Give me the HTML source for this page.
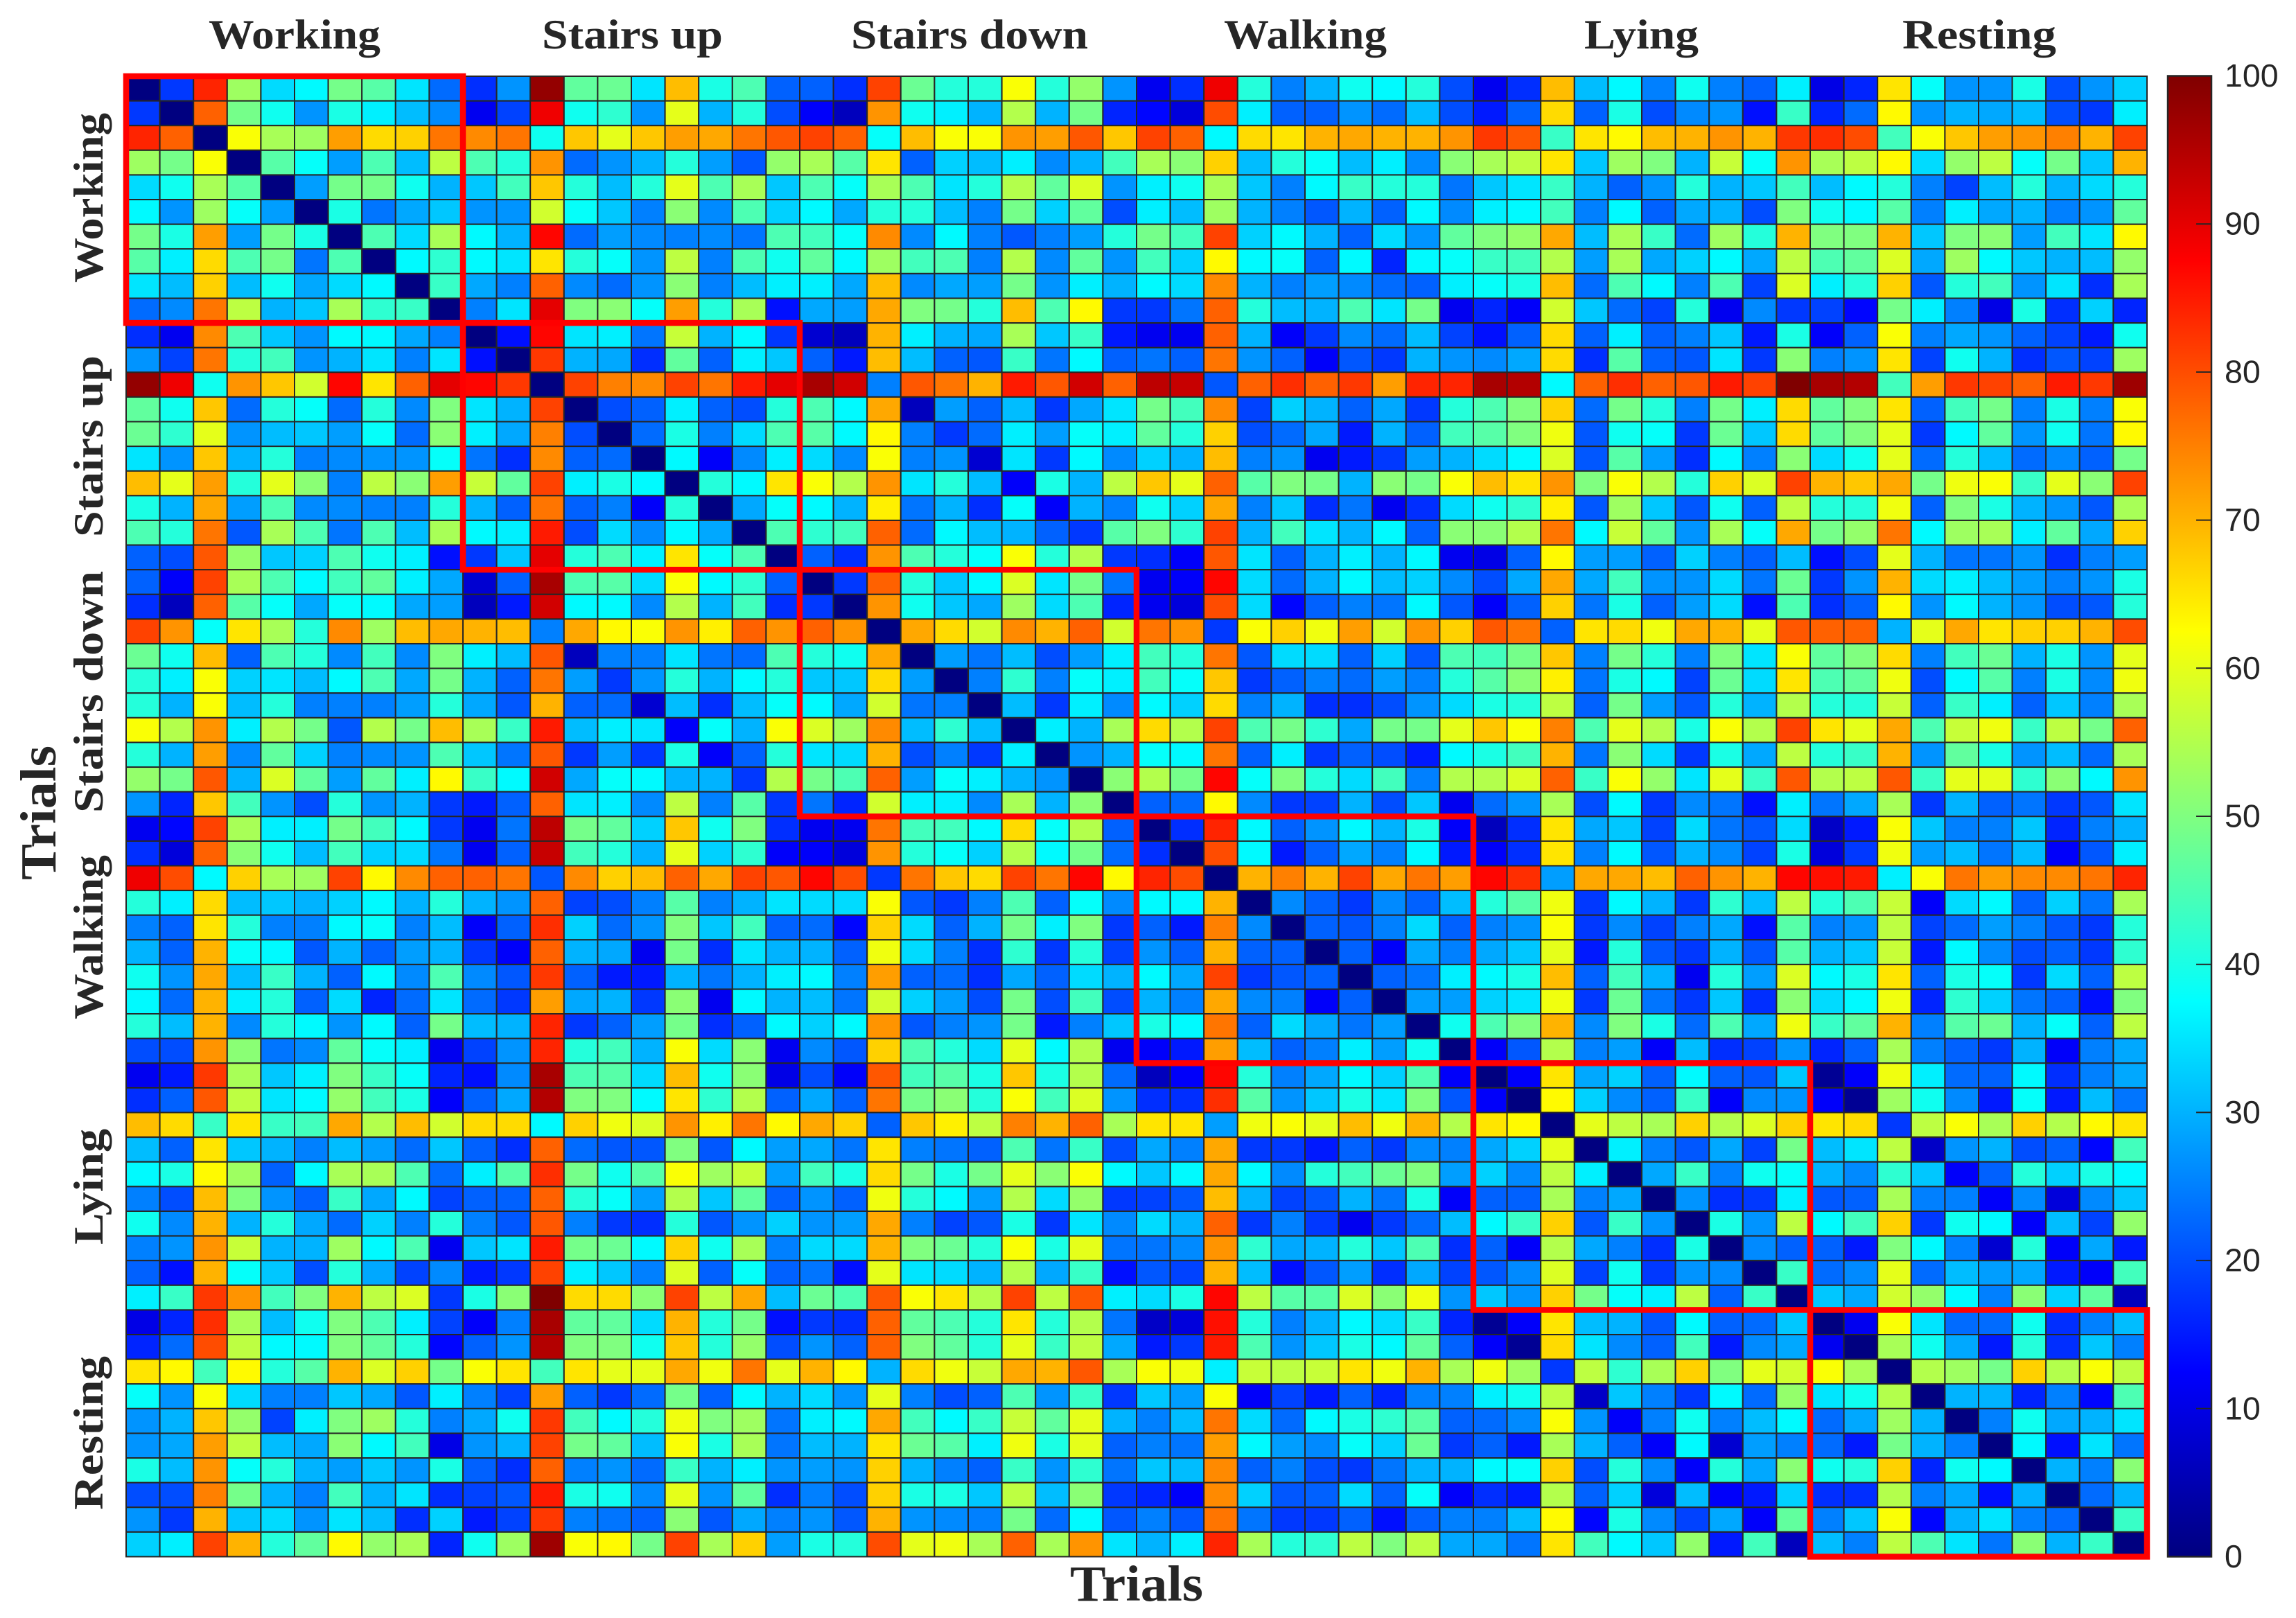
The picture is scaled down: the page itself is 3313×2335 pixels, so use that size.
<!DOCTYPE html>
<html>
<head>
<meta charset="utf-8">
<title>Trial similarity heatmap</title>
<style>
html,body{margin:0;padding:0;background:#fff;width:3313px;height:2335px;overflow:hidden}
svg{display:block}
.grp{font-family:"Liberation Serif",serif;font-weight:bold;font-size:60px;fill:#262626}
.axt{font-family:"Liberation Serif",serif;font-weight:bold;font-size:73px;fill:#262626}
.tick{font-family:"Liberation Sans",sans-serif;font-size:46.5px;fill:#262626}
</style>
</head>
<body>
<svg id="chart" xmlns="http://www.w3.org/2000/svg" width="3313" height="2335" viewBox="0 0 3313 2335">
  <rect x="0" y="0" width="3313" height="2335" fill="#fff"/>
  <g id="cells"></g>
  <g id="blocks"></g>
  <g id="colorbar"></g>

  <text class="grp" x="301" y="70" textLength="248" lengthAdjust="spacingAndGlyphs">Working</text>
  <text class="grp" x="782" y="70" textLength="261" lengthAdjust="spacingAndGlyphs">Stairs up</text>
  <text class="grp" x="1228" y="70" textLength="342" lengthAdjust="spacingAndGlyphs">Stairs down</text>
  <text class="grp" x="1766" y="70" textLength="235" lengthAdjust="spacingAndGlyphs">Walking</text>
  <text class="grp" x="2286" y="70" textLength="165" lengthAdjust="spacingAndGlyphs">Lying</text>
  <text class="grp" x="2745" y="70" textLength="222" lengthAdjust="spacingAndGlyphs">Resting</text>

  <text class="grp" transform="translate(148,408) rotate(-90)" textLength="245" lengthAdjust="spacingAndGlyphs">Working</text>
  <text class="grp" transform="translate(148,775) rotate(-90)" textLength="262" lengthAdjust="spacingAndGlyphs">Stairs up</text>
  <text class="grp" transform="translate(148,1173) rotate(-90)" textLength="349" lengthAdjust="spacingAndGlyphs">Stairs down</text>
  <text class="grp" transform="translate(148,1471) rotate(-90)" textLength="237" lengthAdjust="spacingAndGlyphs">Walking</text>
  <text class="grp" transform="translate(148,1796) rotate(-90)" textLength="167" lengthAdjust="spacingAndGlyphs">Lying</text>
  <text class="grp" transform="translate(148,2179) rotate(-90)" textLength="222" lengthAdjust="spacingAndGlyphs">Resting</text>

  <text class="axt" transform="translate(80,1270) rotate(-90)" textLength="194" lengthAdjust="spacingAndGlyphs">Trials</text>
  <text class="axt" x="1544" y="2310" textLength="192" lengthAdjust="spacingAndGlyphs">Trials</text>
</svg>
<script>
// Upper triangle of the symmetric trial-by-trial matrix. upperTriangle[i] holds
// columns i+1..59 of row i; the diagonal is zero.
const upperTriangle = [
[18,84,53,34,37,49,46,35,23,17,27,98,47,48,35,69,40,45,22,22,17,81,48,41,41,62,41,52,27,11,17,89,41,25,30,39,37,41,20,11,17,69,31,37,25,39,25,22,36,10,16,65,38,27,27,40,20,27,33],
[78,49,39,27,40,36,31,26,11,19,89,39,42,27,60,30,41,20,12,6,73,39,36,30,55,30,49,16,13,9,80,36,22,22,27,23,31,20,15,22,66,22,40,20,26,27,14,43,16,23,63,27,30,29,31,20,18,36],
[62,54,53,72,66,67,76,74,76,39,68,60,68,72,71,76,79,81,78,38,69,62,62,73,72,79,68,81,78,37,66,65,70,71,70,70,73,82,79,43,65,63,69,70,73,70,82,83,80,44,62,68,72,73,75,70,81],
[46,38,28,45,31,56,45,41,73,23,27,30,41,28,21,52,54,46,65,22,33,31,36,26,30,44,54,51,67,31,41,38,31,36,26,51,54,56,65,32,53,50,30,57,38,73,54,56,63,34,52,56,38,49,32,70],
[28,49,49,39,30,32,44,68,41,31,41,60,45,54,32,45,38,54,45,35,41,55,47,59,27,36,39,54,32,25,37,43,41,41,24,32,35,43,30,22,27,41,30,32,44,31,37,41,25,19,31,41,30,34,41],
[40,24,29,32,27,27,58,38,32,25,51,26,45,33,37,29,41,41,31,25,49,33,47,20,36,31,53,30,25,21,30,22,37,26,36,37,44,25,37,22,29,30,20,50,39,37,46,25,36,29,30,25,27,47],
[45,34,54,37,30,87,23,28,26,25,26,24,45,44,38,74,26,37,25,21,25,28,41,49,44,81,33,37,30,22,34,27,47,50,52,71,31,54,43,23,53,41,70,50,50,70,32,50,51,28,44,35,63],
[37,42,37,35,65,41,38,27,56,25,45,39,47,37,53,44,45,25,55,26,47,27,44,33,63,37,38,22,37,16,37,38,43,44,55,28,54,29,33,37,29,56,45,47,59,29,53,37,32,30,31,52],
[43,29,25,78,26,23,27,51,25,31,36,36,29,69,26,29,28,49,27,36,30,37,34,74,30,25,28,26,23,22,36,38,40,69,23,45,37,25,45,19,59,36,41,67,21,41,44,27,35,17,54],
[25,35,90,50,51,38,72,41,54,14,29,28,71,50,49,41,69,45,63,18,18,24,78,41,31,30,45,35,49,11,16,12,58,32,23,19,41,11,26,18,19,13,49,36,25,10,40,17,33,16],
[14,87,35,36,24,57,30,37,18,8,6,70,36,30,29,54,32,43,15,11,11,78,30,12,18,26,23,31,19,14,22,66,22,36,22,25,32,15,40,12,22,62,25,29,27,22,19,15,39],
[82,30,29,17,47,22,36,32,22,15,69,31,22,21,43,24,37,22,24,22,76,27,22,12,21,18,30,27,26,29,66,17,46,22,21,35,18,51,25,27,65,19,39,30,17,21,19,53],
[81,75,74,81,76,85,90,96,92,25,79,76,70,85,79,92,78,94,93,21,78,83,78,82,72,84,84,96,95,37,78,83,78,79,85,81,100,96,95,44,72,82,81,78,85,82,97],
[20,22,36,22,20,41,45,37,71,6,28,22,31,18,29,35,49,44,74,19,33,30,22,29,18,41,45,50,67,23,49,41,25,49,36,66,47,50,65,22,44,49,25,40,25,62],
[23,40,25,34,45,46,37,63,25,18,23,36,28,38,36,47,41,67,20,23,29,15,30,22,44,46,50,61,21,39,38,18,48,32,66,47,50,60,18,37,47,27,39,24,63],
[37,12,26,36,34,26,62,25,27,8,35,18,37,26,33,30,69,25,27,11,15,18,28,30,34,37,59,21,46,28,17,37,25,51,34,39,60,23,41,31,23,26,22,49],
[41,37,65,62,55,73,35,41,31,12,40,30,56,68,60,78,46,50,49,30,51,49,62,69,65,73,50,62,55,41,67,59,81,70,68,71,49,61,62,43,60,51,81],
[29,38,37,30,64,24,30,17,38,12,30,25,39,33,71,25,32,17,24,11,17,34,39,42,64,21,53,32,21,39,22,56,41,41,61,22,50,40,30,27,21,54],
[45,42,44,78,23,37,31,30,22,18,46,50,42,81,30,44,35,30,37,22,51,51,55,76,37,57,47,27,54,38,71,49,52,76,37,53,54,36,47,29,67],
[22,17,73,45,41,38,62,41,55,18,17,12,79,35,22,30,36,30,37,11,10,22,63,28,28,22,33,25,22,31,14,20,60,30,24,24,27,17,25,28],
[18,78,41,32,37,59,35,49,24,11,12,87,34,23,30,37,31,33,26,20,29,71,29,44,27,27,34,24,48,18,27,70,34,36,31,28,25,27,40],
[73,39,32,29,53,34,45,16,11,9,80,34,13,22,25,24,37,21,12,22,67,24,40,22,28,34,14,45,17,22,63,27,37,30,27,20,21,41],
[71,66,58,74,70,78,58,76,73,18,62,67,61,72,58,73,67,79,76,22,65,66,61,71,70,60,79,78,78,30,60,71,65,67,67,70,80],
[28,24,31,20,28,36,44,41,76,21,34,34,22,33,21,45,44,49,68,25,49,41,25,50,35,62,47,50,66,25,44,48,30,40,27,60],
[25,42,25,38,36,44,38,68,18,22,25,23,28,25,41,46,51,64,24,40,37,19,48,34,65,45,47,61,20,37,46,25,40,26,61],
[31,18,36,26,37,33,66,25,30,17,17,20,27,34,40,41,56,22,49,28,21,41,30,55,41,41,57,22,43,36,22,32,25,54],
[36,30,54,66,55,81,45,49,42,29,49,49,60,68,62,75,45,60,55,40,62,55,81,65,60,71,45,57,61,43,56,49,78],
[27,30,38,37,76,22,36,18,22,20,15,37,40,44,70,24,51,34,18,40,29,56,41,43,70,27,47,40,27,31,23,54],
[51,55,49,87,38,50,41,34,44,25,55,55,59,78,43,62,52,35,60,43,79,55,56,79,43,60,60,42,51,37,73],
[22,23,63,26,18,19,30,20,32,11,23,27,54,20,37,18,26,24,14,36,24,29,54,18,30,22,24,18,21,35],
[17,84,37,22,27,37,30,40,12,6,17,65,29,32,19,34,24,21,34,7,15,62,32,25,25,32,16,25,30],
[80,37,15,22,29,25,37,15,12,17,65,25,37,21,30,26,19,40,9,18,61,28,31,24,31,12,21,36],
[70,75,70,81,71,76,72,87,83,28,71,71,69,78,73,70,87,86,85,36,62,76,72,74,74,76,84],
[26,22,18,26,22,31,41,46,61,18,37,30,18,42,31,56,41,45,57,12,34,37,22,33,24,54],
[22,21,25,34,22,25,27,62,18,26,19,25,29,14,46,25,27,56,19,23,28,25,21,18,41],
[22,12,29,25,29,32,60,15,41,21,18,30,21,46,30,32,57,15,37,26,20,22,18,42],
[22,24,36,37,40,69,22,44,30,11,41,28,59,37,40,65,22,40,38,18,34,22,56],
[28,28,33,35,61,18,48,24,18,32,17,51,34,37,61,16,42,33,24,22,14,50],
[39,45,50,70,26,50,40,23,45,29,61,43,47,70,25,46,48,30,38,22,56],
[12,21,55,25,28,12,31,17,19,27,16,22,54,25,22,18,30,12,25,29],
[12,65,29,33,22,37,22,21,32,2,12,61,36,23,22,37,17,25,29],
[63,33,26,22,43,12,26,27,12,2,53,39,26,15,38,15,31,24],
[60,56,54,67,55,59,67,65,66,18,56,62,54,67,55,63,65],
[36,25,21,29,19,49,31,35,56,7,27,30,20,22,13,44],
[29,43,25,39,38,30,26,42,32,12,22,41,33,40,37],
[27,17,18,36,21,22,54,25,25,12,26,9,26,32],
[40,27,56,37,44,67,18,39,37,12,31,19,52],
[26,22,22,15,50,37,25,8,41,12,29,15],
[43,23,26,60,23,31,28,29,15,12,44],
[32,29,58,52,37,25,51,33,47,6],
[11,62,35,23,23,39,17,25,31],
[54,39,29,15,41,17,32,25],
[55,53,49,67,55,62,56],
[30,30,16,25,13,45],
[25,39,29,30,35],
[37,14,35,24],
[30,25,51],
[23,30],
[43],
[]
];
const activityNames = ["Working","Stairs up","Stairs down","Walking","Lying","Resting"];
const trialsPerActivity = [10,10,10,10,10,10];
const colorbarTicks = [0,10,20,30,40,50,60,70,80,90,100];

const SVGNS = "http://www.w3.org/2000/svg";
const plot = {left:182, right:3098, top:110, bottom:2246.5};
const bar = {left:3128, right:3191, top:109.5, bottom:2246.5};
const domainMax = 100;
const nTrials = upperTriangle.length;
const xScale = i => plot.left + (plot.right - plot.left) * i / nTrials;
const yScale = i => plot.top + (plot.bottom - plot.top) * i / nTrials;
const barY = v => bar.bottom - (bar.bottom - bar.top) * v / domainMax;

function clamp01(x){ return Math.max(0, Math.min(1, x)); }
function jet(v){
  const t = clamp01(v / domainMax);
  const r = clamp01(Math.min(4*t - 1.5, -4*t + 4.5));
  const g = clamp01(Math.min(4*t - 0.5, -4*t + 3.5));
  const b = clamp01(Math.min(4*t + 0.5, -4*t + 2.5));
  return "rgb(" + Math.round(r*255) + "," + Math.round(g*255) + "," + Math.round(b*255) + ")";
}
function valueAt(r, c){
  if (r === c) return 0;
  return r < c ? upperTriangle[r][c - r - 1] : upperTriangle[c][r - c - 1];
}
function make(tag, attrs, parent){
  const el = document.createElementNS(SVGNS, tag);
  for (const k in attrs) el.setAttribute(k, attrs[k]);
  parent.appendChild(el);
  return el;
}

const cellsGroup = document.getElementById("cells");
for (let r = 0; r < nTrials; r++) {
  for (let c = 0; c < nTrials; c++) {
    const cell = make("rect", {
      x: xScale(c), y: yScale(r),
      width: xScale(c + 1) - xScale(c), height: yScale(r + 1) - yScale(r),
      fill: jet(valueAt(r, c)), stroke: "#262626", "stroke-width": 2
    }, cellsGroup);
    
    
  }
}

const blocksGroup = document.getElementById("blocks");
let blockStart = 0;
activityNames.forEach((name, i) => {
  const blockEnd = blockStart + trialsPerActivity[i];
  const outline = make("rect", {
    x: xScale(blockStart), y: yScale(blockStart),
    width: xScale(blockEnd) - xScale(blockStart), height: yScale(blockEnd) - yScale(blockStart),
    fill: "none", stroke: "#ff0000", "stroke-width": 8.5
  }, blocksGroup);
  
  
  blockStart = blockEnd;
});

const barGroup = document.getElementById("colorbar");
const defs = make("defs", {}, barGroup);
const grad = make("linearGradient", {id:"jetGrad", x1:0, y1:1, x2:0, y2:0}, defs);
for (let s = 0; s <= 64; s++) {
  make("stop", {offset: s / 64, "stop-color": jet(s / 64 * domainMax)}, grad);
}
const barRect = make("rect", {
  x: bar.left, y: bar.top, width: bar.right - bar.left, height: bar.bottom - bar.top,
  fill: "url(#jetGrad)", stroke: "#262626", "stroke-width": 2.5
}, barGroup);


colorbarTicks.forEach(v => {
  const y = barY(v);
  const mark = make("line", {x1: bar.right - 22, x2: bar.right, y1: y, y2: y, stroke: "#262626", "stroke-width": 2}, barGroup);
  
  
  const label = make("text", {x: 3210, y: y + 15.5, "class": "tick"}, barGroup);
  
  
  label.textContent = String(v);
});
</script>
</body>
</html>
